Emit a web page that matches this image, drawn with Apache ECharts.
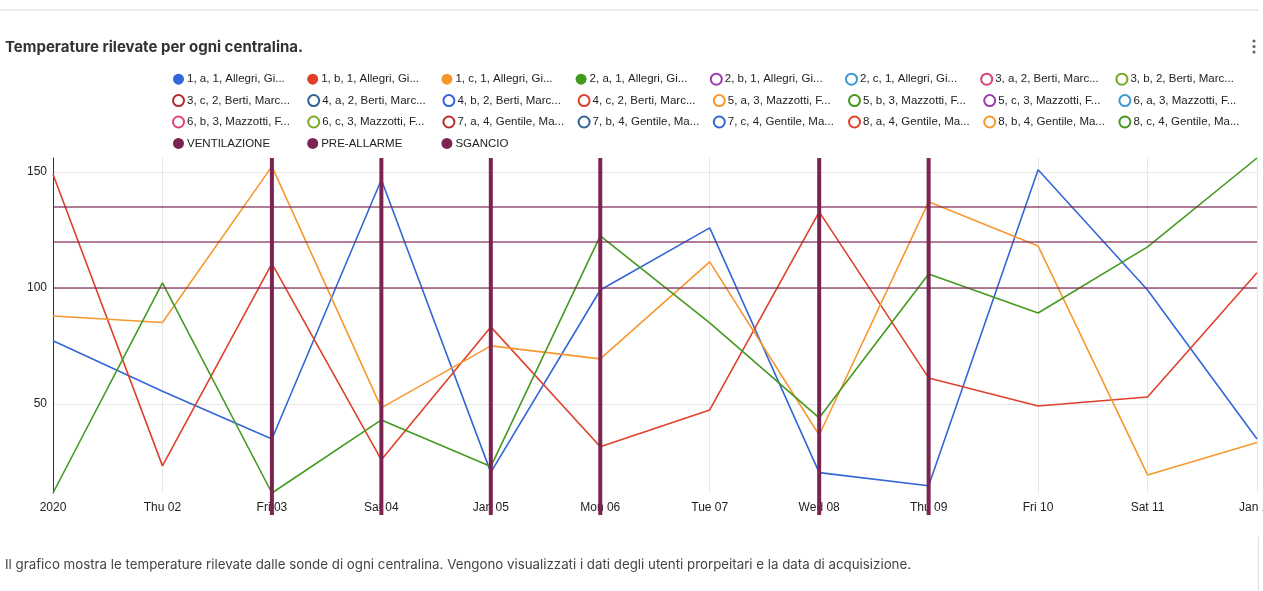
<!DOCTYPE html>
<html>
<head>
<meta charset="utf-8">
<title>Temperature rilevate per ogni centralina</title>
<script src="https://cdn.jsdelivr.net/npm/echarts@6/dist/echarts.min.js"></script>
<style>
  html, body { margin: 0; padding: 0; background: #ffffff; }
  #chart { width: 1263px; height: 591px; }
</style>
</head>
<body>
<div id="chart"></div>
<script>
// Giorni di acquisizione (asse X)
const days = ['2020', 'Thu 02', 'Fri 03', 'Sat 04', 'Jan 05', 'Mon 06', 'Tue 07', 'Wed 08', 'Thu 09', 'Fri 10', 'Sat 11', 'Jan 12'];

// Temperature rilevate dalle sonde (°C)
const temp1a1 = [77.2, 55.5, 34.9, 146.6, 20.5, 99.1, 125.9, 20.4, 14.7, 150.9, 99.1, 34.9];
const temp1b1 = [149.0, 23.3, 110.5, 25.9, 83.2, 31.5, 47.4, 132.8, 61.2, 49.1, 53.0, 106.5];
const temp1c1 = [87.9, 85.1, 152.4, 48.3, 75.0, 69.4, 111.2, 36.6, 137.1, 118.1, 19.4, 33.4];
const temp2a1 = [11.6, 102.2, 11.6, 43.1, 23.0, 122.4, 84.9, 44.0, 106.0, 89.2, 117.7, 156.0];

// Sonde (centralina, sonda, utente, proprietario)
const probeNames = [
  '1, a, 1, Allegri, Gi...', '1, b, 1, Allegri, Gi...', '1, c, 1, Allegri, Gi...', '2, a, 1, Allegri, Gi...',
  '2, b, 1, Allegri, Gi...', '2, c, 1, Allegri, Gi...', '3, a, 2, Berti, Marc...', '3, b, 2, Berti, Marc...',
  '3, c, 2, Berti, Marc...', '4, a, 2, Berti, Marc...', '4, b, 2, Berti, Marc...', '4, c, 2, Berti, Marc...',
  '5, a, 3, Mazzotti, F...', '5, b, 3, Mazzotti, F...', '5, c, 3, Mazzotti, F...', '6, a, 3, Mazzotti, F...',
  '6, b, 3, Mazzotti, F...', '6, c, 3, Mazzotti, F...', '7, a, 4, Gentile, Ma...', '7, b, 4, Gentile, Ma...',
  '7, c, 4, Gentile, Ma...', '8, a, 4, Gentile, Ma...', '8, b, 4, Gentile, Ma...', '8, c, 4, Gentile, Ma...'
];
const probeData = [temp1a1, temp1b1, temp1c1, temp2a1];

// Soglie di allarme
const thresholdNames = ['VENTILAZIONE', 'PRE-ALLARME', 'SGANCIO'];
const thresholdValues = [100, 120, 135];

// Giorni con intervento registrato
const eventDays = ['Fri 03', 'Sat 04', 'Jan 05', 'Mon 06', 'Wed 08', 'Thu 09'];

// Etichette dell'asse Y
const yTicks = [50, 100, 150];

const palette = ['#3366d6', '#e0402a', '#f7982f', '#44991f', '#9c3fae', '#3c9bd4', '#dd4477', '#75aa22', '#b82e2e', '#316395'];
const alarmColor = '#7b2451';

const allValues = probeData.flat();
const yMin = Math.min(...allValues);
const yMax = Math.max(...allValues);

const series = [];
const legendData = [];

probeNames.forEach((name, i) => {
  const color = palette[i % palette.length];
  const values = probeData[i] || [];
  series.push({
    name: name,
    type: 'line',
    data: values,
    symbol: 'none',
    color: color,
    lineStyle: { width: 1.6, color: color },
    z: 3
  });
  legendData.push(values.length
    ? { name: name, icon: 'circle', itemStyle: { color: color } }
    : { name: name, icon: 'circle', itemStyle: { color: '#ffffff', borderColor: color, borderWidth: 2 } });
});

thresholdNames.forEach((name, i) => {
  series.push({
    name: name,
    type: 'line',
    data: [],
    color: alarmColor,
    symbol: 'none',
    z: 2,
    markLine: {
      silent: true,
      symbol: 'none',
      label: { show: false },
      lineStyle: { color: 'rgba(123,36,81,0.6)', width: 2, type: 'solid' },
      data: [{ yAxis: thresholdValues[i] }]
    }
  });
  legendData.push({ name: name, icon: 'circle', itemStyle: { color: alarmColor } });
});

// Linee verticali per i giorni con intervento
series.push({
  name: 'interventi',
  type: 'custom',
  clip: false,
  z: 10,
  encode: { x: 0, y: 1 },
  data: eventDays.map(d => [d, yMax]),
  renderItem: function (params, api) {
    const x = api.value(0);
    const top = api.coord([x, yMax]);
    const bottom = api.coord([x, yMin]);
    return {
      type: 'line',
      shape: { x1: top[0], y1: top[1], x2: bottom[0], y2: bottom[1] + 22 },
      style: { stroke: alarmColor, lineWidth: 4 }
    };
  }
});

const chart = echarts.init(document.getElementById('chart'), null, { renderer: 'canvas' });

chart.setOption({
  animation: false,
  backgroundColor: '#ffffff',
  textStyle: { fontFamily: 'Liberation Sans, Arial, sans-serif' },
  title: {
    text: 'Temperature rilevate per ogni centralina.',
    left: 5,
    top: 40,
    padding: 0,
    textStyle: { fontFamily: 'Inter, Roboto, sans-serif', fontSize: 15, fontWeight: 'bold', color: '#333333' }
  },
  legend: {
    data: legendData,
    left: 172,
    top: 72,
    width: 1085,
    padding: 0,
    itemWidth: 11,
    itemHeight: 11,
    itemGap: 7,
    selectedMode: false,
    textStyle: {
      fontFamily: 'Liberation Sans, Arial, sans-serif',
      fontSize: 11.5,
      color: '#222222',
      width: 113.2,
      lineHeight: 14.4,
      padding: [0, 0, 0, -2]
    }
  },
  grid: { left: 53, right: 6, top: 158, bottom: 98, outerBoundsMode: 'none' },
  xAxis: {
    type: 'category',
    data: days,
    boundaryGap: false,
    axisLine: { show: false },
    axisTick: { show: false },
    axisLabel: {
      interval: 0,
      margin: 9,
      color: '#222222',
      fontSize: 12,
      fontFamily: 'Liberation Sans, Arial, sans-serif'
    },
    splitLine: { show: true, lineStyle: { color: '#e6e6e6', width: 1 } }
  },
  yAxis: {
    type: 'value',
    min: yMin,
    max: yMax,
    axisLine: { show: true, lineStyle: { color: '#333333', width: 1 } },
    axisTick: { show: false, customValues: yTicks },
    axisLabel: {
      customValues: yTicks,
      margin: 6,
      color: '#222222',
      fontSize: 12,
      fontFamily: 'Liberation Sans, Arial, sans-serif'
    },
    splitLine: { show: true, lineStyle: { color: '#e6e6e6', width: 1 } }
  },
  graphic: [
    {
      type: 'line',
      shape: { x1: 0, y1: 10, x2: 1258, y2: 10 },
      style: { stroke: '#e3e6ea', lineWidth: 1.5 }
    },
    { type: 'circle', shape: { cx: 1254, cy: 41, r: 1.6 }, style: { fill: '#666666' } },
    { type: 'circle', shape: { cx: 1254, cy: 46.5, r: 1.6 }, style: { fill: '#666666' } },
    { type: 'circle', shape: { cx: 1254, cy: 52, r: 1.6 }, style: { fill: '#666666' } },
    {
      type: 'text',
      left: 5,
      top: 558,
      style: {
        text: 'Il grafico mostra le temperature rilevate dalle sonde di ogni centralina. Vengono visualizzati i dati degli utenti prorpeitari e la data di acquisizione.',
        font: '13.3px Inter, Roboto, sans-serif',
        fill: '#444444'
      }
    },
    {
      type: 'line',
      shape: { x1: 1258.5, y1: 537, x2: 1258.5, y2: 591 },
      style: { stroke: '#dddddd', lineWidth: 1 }
    }
  ],
  series: series
});
</script>
</body>
</html>
